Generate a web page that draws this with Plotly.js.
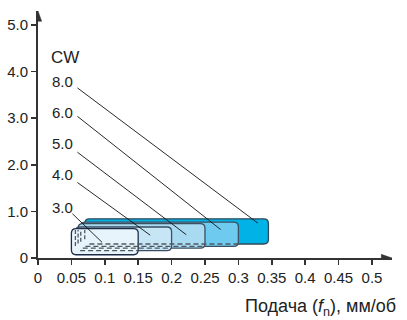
<!DOCTYPE html>
<html>
<head>
<meta charset="utf-8">
<script src="https://cdn.plot.ly/plotly-3.0.1.min.js"></script>
<style>html,body{margin:0;padding:0;background:#fff;}#chart{width:407px;height:320px;}</style>
</head>
<body>
<div id="chart"></div>
<script>
// ---- data ----
const cwLabels   = ['3.0', '4.0', '5.0', '6.0', '8.0'];   // cutting width, front to back
const feedMin    = [0.050, 0.056, 0.060, 0.064, 0.070];   // mm/rev
const feedMax    = [0.150, 0.200, 0.250, 0.300, 0.345];
const depthMin   = [0.07, 0.16, 0.21, 0.25, 0.30];        // mm
const depthMax   = [0.63, 0.665, 0.736, 0.77, 0.84];
const labelFeed  = [0.037, 0.037, 0.037, 0.037, 0.037];
const labelDepth = [1.09, 1.79, 2.45, 3.12, 3.78];
const leadFeed0  = [0.0515, 0.059, 0.059, 0.059, 0.059];
const leadDepth0 = [0.95, 1.62, 2.27, 3.04, 3.65];
const leadFeed1  = [0.096, 0.168, 0.222, 0.2735, 0.329];
const leadDepth1 = [0.335, 0.49, 0.50, 0.61, 0.75];
const xTickVals  = [0, 0.05, 0.1, 0.15, 0.2, 0.25, 0.3, 0.35, 0.4, 0.45, 0.5];
const xTickText  = ['0', '0.05', '0.1', '0.15', '0.2', '0.25', '0.3', '0.35', '0.4', '0.45', '0.5'];
const yTickVals  = [0, 1, 2, 3, 4, 5];
const yTickText  = ['0', '1.0', '2.0', '3.0', '4.0', '5.0'];

// ---- styles ----
const fills   = ['#e8f4fb', '#c6e6f6', '#a8dbf2', '#6ecbef', '#00b2e5'];
const borders = ['#1f2d4d', '#3d4f60', '#3d4f60', '#3d4f60', '#2f4a5a'];
const FONT = 'Liberation Sans, Arial, Helvetica, sans-serif';
const rx = 0.007, ry = 0.1;
const X_MAX = 0.53, Y_MAX = 5.3;

function roundRect(x0, x1, y0, y1) {
  return `M ${x0+rx},${y0} L ${x1-rx},${y0} Q ${x1},${y0} ${x1},${y0+ry} ` +
         `L ${x1},${y1-ry} Q ${x1},${y1} ${x1-rx},${y1} L ${x0+rx},${y1} ` +
         `Q ${x0},${y1} ${x0},${y1-ry} L ${x0},${y0+ry} Q ${x0},${y0} ${x0+rx},${y0} Z`;
}

const shapes = [];
// boxes, back to front
for (let i = cwLabels.length - 1; i >= 0; i--) {
  shapes.push({type: 'path', xref: 'x', yref: 'y',
    path: roundRect(feedMin[i], feedMax[i], depthMin[i], depthMax[i]),
    fillcolor: fills[i], line: {color: borders[i], width: 1.3}, layer: 'above'});
}
// hidden edges (dashed)
for (let k = 1; k < cwLabels.length; k++) {
  shapes.push({type: 'line', xref: 'x', yref: 'y',
    x0: feedMin[k] + rx, x1: feedMax[k-1], y0: depthMin[k], y1: depthMin[k],
    line: {color: '#4f5860', width: 1.3, dash: '5px,3px'}});
  shapes.push({type: 'line', xref: 'x', yref: 'y',
    x0: feedMin[k], x1: feedMin[k], y0: depthMin[k] + ry, y1: Math.min(depthMax[0], depthMax[k-1]) - 0.03,
    line: {color: '#4f5860', width: 1.3, dash: '4px,2px'}});
}
// leader lines
for (let i = 0; i < cwLabels.length; i++) {
  shapes.push({type: 'line', xref: 'x', yref: 'y',
    x0: leadFeed0[i], y0: leadDepth0[i], x1: leadFeed1[i], y1: leadDepth1[i],
    line: {color: '#111', width: 0.9}});
}
// axis arrowheads
const hw = 0.0055, hh = 0.078, ly = 0.22, lx = 0.016;
shapes.push({type: 'path', xref: 'x', yref: 'y', layer: 'above',
  path: `M 0,${Y_MAX} L ${-hw},${Y_MAX-ly} L ${hw},${Y_MAX-ly} Z`,
  fillcolor: '#333', line: {color: '#333', width: 0.5}});
shapes.push({type: 'path', xref: 'x', yref: 'y', layer: 'above',
  path: `M ${X_MAX},0 L ${X_MAX-lx},${-hh} L ${X_MAX-lx},${hh} Z`,
  fillcolor: '#333', line: {color: '#333', width: 0.5}});

const annotations = [];
for (let i = 0; i < cwLabels.length; i++) {
  annotations.push({x: labelFeed[i], y: labelDepth[i], xref: 'x', yref: 'y',
    text: cwLabels[i], showarrow: false, xanchor: 'center', yanchor: 'middle',
    font: {family: FONT, size: 15, color: '#222'}});
}
annotations.push({x: 0.04, y: 4.3, xref: 'x', yref: 'y', text: 'CW', showarrow: false,
  xanchor: 'center', yanchor: 'middle', font: {family: FONT, size: 17, color: '#222'}});
// axis title
annotations.push({x: 1, y: 0, xref: 'paper', yref: 'paper', xanchor: 'right', yanchor: 'middle',
  xshift: 6, yshift: -49, showarrow: false,
  text: 'Подача (<i>f</i><sub>n</sub>), мм/об', font: {family: FONT, size: 18, color: '#222'}});

const layout = {
  width: 407, height: 320,
  margin: {l: 38, r: 15, t: 11, b: 62},
  paper_bgcolor: '#fff', plot_bgcolor: '#fff',
  showlegend: false,
  xaxis: {range: [0, X_MAX], showline: true, linecolor: '#333', linewidth: 2,
    ticks: 'outside', ticklen: 5, tickwidth: 1.5, tickcolor: '#333',
    tickvals: xTickVals, ticktext: xTickText, showgrid: false, zeroline: false,
    tickfont: {family: FONT, size: 15, color: '#222'}, fixedrange: true},
  yaxis: {range: [0, Y_MAX], showline: true, linecolor: '#333', linewidth: 2,
    ticks: 'outside', ticklen: 5, tickwidth: 1.5, tickcolor: '#333',
    tickvals: yTickVals, ticktext: yTickText, showgrid: false, zeroline: false,
    tickfont: {family: FONT, size: 15, color: '#222'}, fixedrange: true},
  shapes: shapes,
  annotations: annotations
};

Plotly.newPlot('chart', [], layout, {staticPlot: true, displayModeBar: false});
</script>
</body>
</html>
